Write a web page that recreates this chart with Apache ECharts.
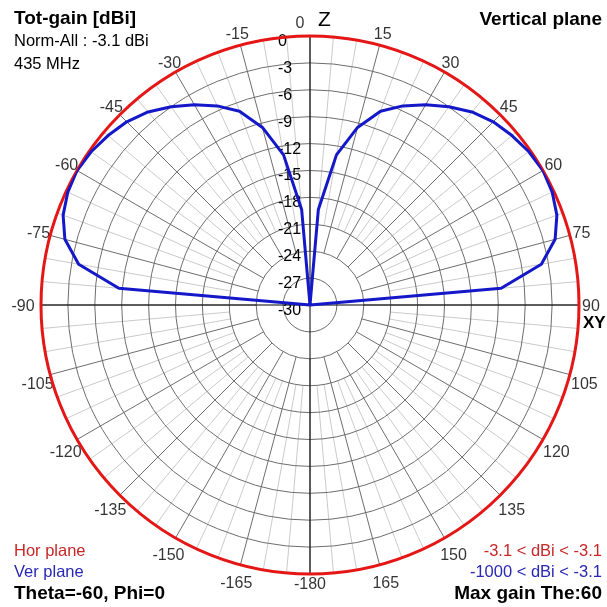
<!DOCTYPE html>
<html><head><meta charset="utf-8">
<script src="https://cdn.jsdelivr.net/npm/echarts@6/dist/echarts.min.js"></script>
<style>html,body{margin:0;padding:0;background:#fff}#c{width:607px;height:607px}</style>
</head><body><div id="c"></div>
<script>
// ---- data ----
const verAngles = [-90,-85,-80,-75,-70,-65,-60,-55,-50,-45,-40,-35,-30,-25,-20,-15,-10,-5,0,5,10,15,20,25,30,35,40,45,50,55,60,65,70,75,80,85,90];
const verGain   = [-30,-8.6,-3.8,-1.7,-0.7,-0.2,0,-0.2,-0.6,-1.1,-1.9,-3.0,-4.2,-5.5,-7.0,-9.5,-13.0,-19.3,-30,-19.3,-13.0,-9.5,-7.0,-5.5,-4.2,-3.0,-1.9,-1.1,-0.6,-0.2,0,-0.2,-0.7,-1.7,-3.8,-8.6,-30];
const angleTicks = [0,15,30,45,60,75,90,105,120,135,150,165,180,195,210,225,240,255,270,285,300,315,330,345];
const angleTickLabels = ['0','15','30','45','60','75','90','105','120','135','150','165','-180','-165','-150','-135','-120','-105','-90','-75','-60','-45','-30','-15'];
const radiusMin = -30, radiusMax = 0, radiusStep = 3;

// ---- layout / style ----
const CX = 310, CY = 305, R = 269, RLBL = 281;
const FONT = '"Liberation Sans", Arial, sans-serif';
const DARK = '#6e6e6e', LIGHT = '#cbcbcb';
const RED = '#e41616', BLUE = '#1418c8';

const chart = echarts.init(document.getElementById('c'), null, {renderer: 'canvas'});

function hiddenRadius(i) {
  return {polarIndex: i, min: 0, max: 1, axisLine: {show: false}, axisTick: {show: false}, axisLabel: {show: false}, splitLine: {show: false}};
}
function baseAngle(i, extra) {
  return Object.assign({polarIndex: i, type: 'value', min: 0, max: 360, interval: 15, startAngle: 90, clockwise: true,
    axisLine: {show: false}, axisTick: {show: false}, axisLabel: {show: false}, splitLine: {show: false}}, extra || {});
}
// small label nudges (px) mimicking the original program's text placement
function labelOffset(a) {
  if (a === 0) return [-10, 0];
  if (a === 180) return [0, -1];
  if (a === 270) return [-6, 1.5];
  if (a > 90 && a < 270) return [a < 180 ? 3 : -1, 7];
  return [0, 1.5];
}

const verData = verAngles.map((a, i) => [verGain[i], a < 0 ? a + 360 : a]);
const lblData = angleTicks.map((a, i) => ({value: [1, a],
  label: {formatter: angleTickLabels[i], offset: labelOffset(a)}}));

const texts = [
  {t: 'Tot-gain [dBi]', x: 14, y: 19, w: 'bold', s: 19, c: '#000', a: 'left'},
  {t: 'Norm-All : -3.1 dBi', x: 14, y: 41, w: 'normal', s: 16.5, c: '#000', a: 'left'},
  {t: '435 MHz', x: 14, y: 64, w: 'normal', s: 16.5, c: '#000', a: 'left'},
  {t: 'Vertical plane', x: 602, y: 19.5, w: 'bold', s: 19, c: '#000', a: 'right'},
  {t: 'Hor plane', x: 14, y: 551, w: 'normal', s: 16.5, c: '#c82828', a: 'left'},
  {t: 'Ver plane', x: 14, y: 572.5, w: 'normal', s: 16.5, c: '#2828b4', a: 'left'},
  {t: 'Theta=-60, Phi=0', x: 14, y: 594, w: 'bold', s: 19, c: '#000', a: 'left'},
  {t: '-3.1 < dBi < -3.1', x: 602, y: 551, w: 'normal', s: 16.5, c: '#c82828', a: 'right'},
  {t: '-1000 < dBi < -3.1', x: 602, y: 572.5, w: 'normal', s: 16.5, c: '#2828b4', a: 'right'},
  {t: 'Max gain The:60', x: 602, y: 594, w: 'bold', s: 19, c: '#000', a: 'right'},
  {t: 'Z', x: 318, y: 20, w: 'normal', s: 21, c: '#000', a: 'left'},
  {t: 'XY', x: 583, y: 323, w: 'bold', s: 17, c: '#000', a: 'left'}
];

chart.setOption({
  animation: false,
  backgroundColor: '#fff',
  polar: [
    {center: [CX, CY], radius: R},
    {center: [CX, CY], radius: [R * 0.3, R]},
    {center: [CX, CY], radius: [R * 0.2, R]},
    {center: [CX, CY], radius: R},
    {center: [CX, CY], radius: RLBL}
  ],
  angleAxis: [
    baseAngle(0, {z: 4, axisLine: {show: true, lineStyle: {color: RED, width: 3}}}),
    baseAngle(1, {z: 1, minorTick: {show: false, splitNumber: 3}, minorSplitLine: {show: true, lineStyle: {color: LIGHT, width: 1}}}),
    baseAngle(2, {z: 2, splitLine: {show: true, lineStyle: {color: DARK, width: 1}}}),
    baseAngle(3, {z: 3, interval: 90, splitLine: {show: true, lineStyle: {color: '#000', width: 1}}}),
    baseAngle(4, {})
  ],
  radiusAxis: [
    {polarIndex: 0, type: 'value', min: radiusMin, max: radiusMax, interval: radiusStep, z: 2,
      axisLine: {show: false}, axisTick: {show: false},
      splitLine: {show: true, lineStyle: {color: DARK, width: 1}},
      axisLabel: {show: true, align: 'left', verticalAlign: 'top', lineHeight: 11, margin: 32,
        fontFamily: FONT, fontSize: 16, color: '#000'}},
    hiddenRadius(1), hiddenRadius(2), hiddenRadius(3), hiddenRadius(4)
  ],
  series: [
    {type: 'line', name: 'Ver plane', coordinateSystem: 'polar', polarIndex: 0, data: verData, z: 6,
      symbol: 'none', lineStyle: {color: BLUE, width: 3}, clip: false},
    {type: 'scatter', coordinateSystem: 'polar', polarIndex: 4, data: lblData, symbolSize: 1, silent: true,
      itemStyle: {color: 'rgba(0,0,0,0)'},
      label: {show: true, position: 'inside', fontFamily: FONT, fontSize: 16, color: '#000'}}
  ],
  graphic: texts.map(o => ({type: 'text', silent: true, z: 10, style: {
    text: o.t, x: o.x, y: o.y, fill: o.c, align: o.a, verticalAlign: 'middle',
    font: o.w + ' ' + o.s + 'px ' + FONT}}))
});
</script></body></html>
